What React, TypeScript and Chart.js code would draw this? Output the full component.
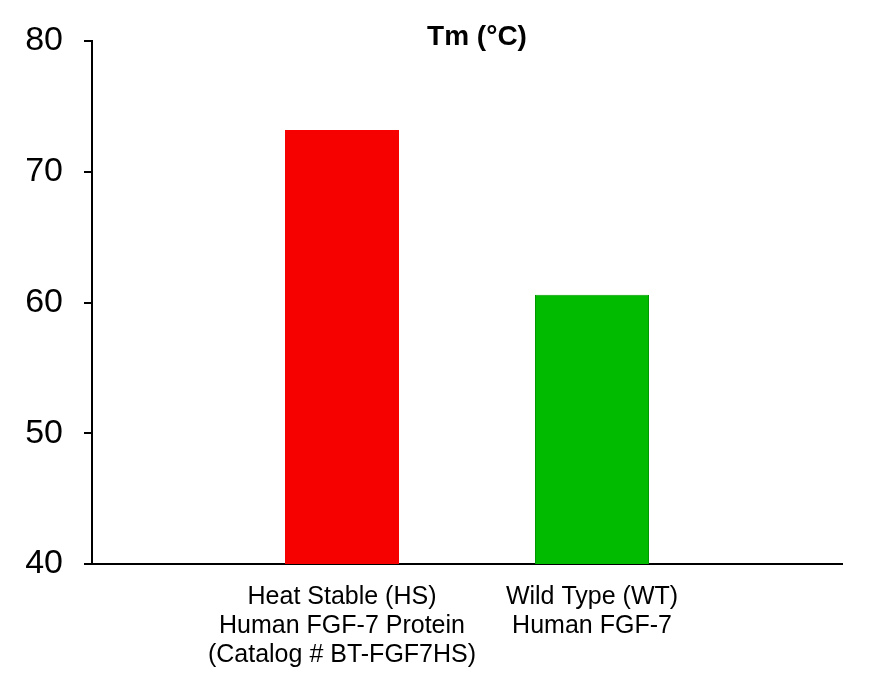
import React, { useEffect, useRef } from "react";
import { Chart, registerables } from "chart.js";

Chart.register(...registerables);

const categories: (string | string[])[] = [
  "",
  ["Heat Stable (HS)", "Human FGF-7 Protein", "(Catalog # BT-FGF7HS)"],
  ["Wild Type (WT)", "Human FGF-7"],
  "",
];
const tmValues: (number | null)[] = [null, 73.2, 60.6, null];
const barColors = ["rgba(0,0,0,0)", "#f70000", "#00bb00", "rgba(0,0,0,0)"];
const barBorders = ["rgba(0,0,0,0)", "#f70000", "#009a00", "rgba(0,0,0,0)"];
const yTicks = [40, 50, 60, 70, 80];
const titleText = "Tm (°C)";

const FONT = "'Liberation Sans', Arial, sans-serif";

const titlePlugin = {
  id: "customTitle",
  afterDraw(chart: any) {
    const { ctx, chartArea } = chart;
    ctx.save();
    ctx.font = `bold 28px ${FONT}`;
    ctx.fillStyle = "#000";
    ctx.textAlign = "center";
    ctx.textBaseline = "middle";
    ctx.fillText(titleText, (chartArea.left + chartArea.right) / 2 + 10, 29.5);
    ctx.restore();
  },
};

export default function App() {
  const ref = useRef<HTMLCanvasElement | null>(null);
  useEffect(() => {
    if (!ref.current) return;
    const chart = new Chart(ref.current, {
      type: "bar",
      data: {
        labels: categories as any,
        datasets: [
          {
            data: tmValues,
            backgroundColor: barColors,
            borderColor: barBorders,
            borderWidth: 1,
            barPercentage: 0.456,
            categoryPercentage: 1,
          },
        ],
      },
      options: {
        animation: false,
        responsive: true,
        maintainAspectRatio: false,
        layout: { padding: { top: 33, right: 30, bottom: 0, left: 17 } },
        plugins: {
          legend: { display: false },
          tooltip: { enabled: false },
          title: { display: false },
        },
        scales: {
          x: {
            offset: false,
            afterFit: (axis: any) => {
              axis.height = 114;
              axis.paddingLeft = 0;
              axis.paddingRight = 0;
            },
            grid: { display: false, drawTicks: false, tickLength: 0 },
            border: { display: true, color: "#000", width: 2 },
            ticks: {
              autoSkip: false,
              maxRotation: 0,
              minRotation: 0,
              padding: 18.5,
              color: "#000",
              font: { family: FONT, size: 25, lineHeight: "29px" },
            },
          },
          y: {
            min: yTicks[0],
            max: yTicks[yTicks.length - 1],
            afterBuildTicks: (axis: any) => {
              axis.ticks = yTicks.map((v) => ({ value: v }));
            },
            afterFit: (axis: any) => {
              axis.width = 67;
              axis.paddingTop = 0;
              axis.paddingBottom = 0;
            },
            grid: {
              display: true,
              drawOnChartArea: false,
              drawTicks: true,
              tickLength: 8,
              color: "#000",
              lineWidth: 2,
            },
            border: { display: true, color: "#000", width: 2 },
            ticks: {
              padding: 21,
              color: "#000",
              font: { family: FONT, size: 34 },
            },
          },
        },
      },
      plugins: [titlePlugin],
    });
    return () => chart.destroy();
  }, []);
  return (
    <div style={{ width: 864, height: 670, position: "relative" }}>
      <canvas ref={ref} />
    </div>
  );
}
